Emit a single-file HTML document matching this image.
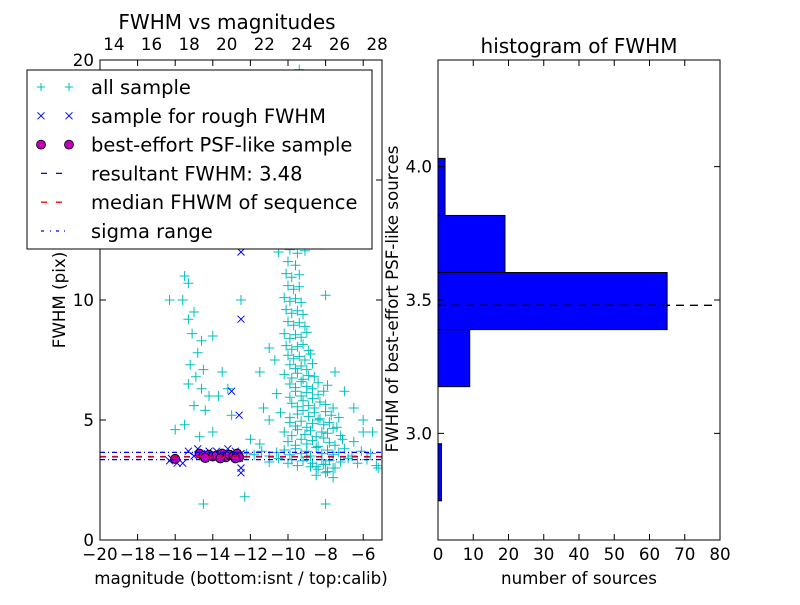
<!DOCTYPE html>
<html><head><meta charset="utf-8"><style>
body{margin:0;background:#fff}
svg{font-family:"DejaVu Sans","Liberation Sans",sans-serif}
</style></head><body>
<svg id="c" width="800" height="600" viewBox="0 0 800 600"></svg>
<script>
// ---- data: scatter (magnitude, FWHM) ----
const allMag=[-11,-10.5,-10,-9.8,-9.5,-9.2,-9,-8.7,-8.5,-8.2,-8,-7.8,-7.5,-7.2,-6.8,-6.3,-5.8,-5.3,
-12.2,-11.8,-11.4,-11,-10.6,-10.2,-9.9,-9.6,-9.3,-9,-8.8,-8.5,-8.2,-7.9,-7.6,-7.3,-7,-6.6,-6.1,-5.6,
-8.8,-8.4,-8.1,-7.9,-7.6,-8.5,-8,-7.6,
-10,-9.6,-9.3,-9,-8.7,-8.4,-8.1,-7.8,-7.5,-7.1,-6.5,
-10.2,-9.8,-9.5,-9.1,-8.8,-8.5,-8.2,-7.9,-7.6,-7.2,-6,
-9.9,-9.6,-9.3,-9,-8.7,-8.4,-8.1,-7.8,-7.4,
-10.4,-9.9,-9.5,-9.2,-8.9,-8.6,-8.3,-8,-7.7,-7.3,
-9.8,-9.5,-9.2,-8.9,-8.6,-8.3,-8,-7.6,
-10.6,-9.9,-9.6,-9.3,-9,-8.7,-8.4,-8.1,
-9.9,-9.6,-9.3,-9,-8.7,-8.4,-7.9,
-10.2,-9.8,-9.5,-9.2,-8.9,-8.6,
-9.9,-9.6,-9.3,-9,-8.7,
-10,-9.7,-9.4,-9.1,-8.8,
-10.1,-9.8,-9.5,-9.2,-8.9,
-10.2,-9.9,-9.6,-9.3,-9,
-10,-9.7,-9.4,-9.1,
-10.1,-9.8,-9.5,-9.2,
-10.2,-9.9,-9.6,-9.3,
-10,-9.7,-9.4,
-10.1,-9.8,-9.4,
-10,-9.6,
-9.9,-9.5,-9.1,
-15.5,-15.3,-15.6,-15,-15.3,-15.1,-14.6,-14.8,-15.2,-14.5,-14.9,-15.3,-14.6,-14.2,-15,-14.4,-15.5,-14.7,-14,-13.7,-13.5,-16,-16.3,-15.8,-14,-13.2,-13,
-12.5,-12.5,-11,-11.5,-10.7,-11.3,-11,-12,-11.5,-8,-7.5,-7,-6.5,-6,-5.5,-5.2,-12.3,-14.5,-8,-7.8,-8.6,-9.5,-8.7,-9.4,-10.5,-11.9,-11,-10.5,-9.2,-8.2];
const allFwhm=[3.25,3.4,3.2,3.35,3.1,3.3,3.45,3.2,3.05,3.35,3.15,3.3,3.0,3.25,3.4,3.2,3.35,3.1,
3.6,3.55,3.7,3.5,3.65,3.75,3.55,3.8,3.6,3.7,3.5,3.85,3.6,3.75,3.55,3.65,3.8,3.5,3.7,3.6,
3.05,2.95,3.15,2.85,3.0,2.7,2.8,2.6,
4.1,3.95,4.2,4.0,4.15,3.9,4.25,4.05,3.95,4.2,4.1,
4.5,4.35,4.6,4.4,4.55,4.3,4.5,4.45,4.65,4.35,4.5,
4.9,4.75,4.95,4.7,4.85,5.0,4.8,4.9,4.7,
5.3,5.1,5.25,5.4,5.15,5.3,5.05,5.35,5.2,5.1,
5.7,5.55,5.8,5.6,5.5,5.75,5.65,5.5,
6.1,5.95,6.2,6.0,6.15,5.9,6.05,6.2,
6.5,6.35,6.6,6.4,6.3,6.55,6.45,
6.9,6.75,6.95,6.7,6.85,6.8,
7.3,7.15,7.25,7.1,7.35,
7.7,7.55,7.65,7.5,7.75,
8.1,7.95,8.05,8.15,7.9,
8.6,8.4,8.55,8.45,8.65,
9.1,8.95,9.05,8.9,
9.6,9.45,9.55,9.4,
10.1,9.95,10.05,9.9,
10.6,10.45,10.55,
11.1,10.95,11.05,
11.6,11.45,
12.1,11.95,12.05,
11,10.7,10,9.5,9.2,8.6,8.3,7.8,7.3,7.1,6.8,6.5,6.3,6,5.6,5.4,4.8,4.3,4.5,6,7,4.6,10,12.8,8.5,6.3,5.2,
10,12.8,8,7,7.5,5.5,5,4.2,4,10.2,7,6.2,5.5,5,4.5,3,1.8,1.5,1.5,13,14.7,17,18,19.6,19.2,18.8,13.5,12,13,12.3];
const roughMag=[-16.3,-16.2,-15.9,-15.6,-15.3,-15,-14.8,-14.6,-14.4,-14.2,-14,-13.8,-13.6,-13.4,-13.2,-13,-12.8,-12.6,-12.5,-12.5,-12.5,-13,-12.6,-12.5,-12.5];
const roughFwhm=[3.3,3.4,3.2,3.2,3.7,3.5,3.8,3.6,3.4,3.7,3.5,3.7,3.4,3.6,3.8,3.5,3.7,3.4,3.6,12,9.2,6.2,5.2,3,2.8];
const psfMag=[-16,-14.7,-14.5,-14.2,-14,-13.8,-13.5,-13.3,-13.1,-12.9,-12.7,-12.6,-12.8,-13.6,-14.4];
const psfFwhm=[3.38,3.6,3.5,3.55,3.48,3.52,3.6,3.45,3.55,3.5,3.6,3.45,3.4,3.4,3.42];
const resultFwhm=3.48, medianFwhm=3.46, sigmaLo=3.35, sigmaHi=3.65;
// ---- data: histogram ----
const binEdges=[2.747,2.961,3.175,3.389,3.603,3.817,4.031];
const binCounts=[1,0,9,65,19,2];
const xTicksL=[-20,-18,-16,-14,-12,-10,-8,-6];
const xTicksTop=[14,16,18,20,22,24,26,28];
const yTicksL=[0,5,10,15,20];
const xTicksH=[0,10,20,30,40,50,60,70,80];
const yTicksH=[3.0,3.5,4.0];

const NS='http://www.w3.org/2000/svg', svg=document.getElementById('c');
function el(t,a,p){const e=document.createElementNS(NS,t);for(const k in a)e.setAttribute(k,a[k]);(p||svg).appendChild(e);return e;}
const L={x0:100,x1:382,y0:60,y1:540}, H={x0:438,x1:720,y0:60,y1:540};
const sxL=m=>L.x0+(m+20)*18.8, syL=f=>L.y1-f*24;
const sxT=v=>L.x0+(v-13.26)*18.8;
const sxH=c=>H.x0+c*(H.x1-H.x0)/80, syH=f=>H.y1-(f-2.6)*(H.y1-H.y0)/1.8;
const FS=16.7;

const cp=el('clipPath',{id:'clipL'});el('rect',{x:L.x0,y:L.y0,width:L.x1-L.x0,height:L.y1-L.y0},cp);
const gL=el('g',{'clip-path':'url(#clipL)'});


const gAll=el('g',{stroke:'#00bfbf','stroke-width':1},gL);


for(let i=0;i<allMag.length;i++){const x=sxL(allMag[i]),y=syL(allFwhm[i]);
 el('path',{d:`M${x-5} ${y}H${x+5}M${x} ${y-5}V${y+5}`},gAll);}
const gR=el('g',{stroke:'#0000ff','stroke-width':1},gL);


for(let i=0;i<roughMag.length;i++){const x=sxL(roughMag[i]),y=syL(roughFwhm[i]);
 el('path',{d:`M${x-3.5} ${y-3.5}L${x+3.5} ${y+3.5}M${x-3.5} ${y+3.5}L${x+3.5} ${y-3.5}`},gR);}
const gP=el('g',{fill:'#bf00bf',stroke:'#000','stroke-width':1},gL);


for(let i=0;i<psfMag.length;i++){el('circle',{cx:sxL(psfMag[i]),cy:syL(psfFwhm[i]),r:4.5},gP);}
function hline(g,y,col,dash,name){const l=el('line',{x1:L.x0,x2:L.x1,y1:y,y2:y,stroke:col,'stroke-width':1.3,'stroke-dasharray':dash},g);
 return l;}
hline(gL,syL(resultFwhm),'#0000ff','6 6','resultant-fwhm-line');
hline(gL,syL(medianFwhm),'#ff0000','6 6','median-fwhm-line');
hline(gL,syL(sigmaHi),'#0000ff','5 3 1 3','sigma-high-line');
hline(gL,syL(sigmaLo),'#0000ff','5 3 1 3','sigma-low-line');

const fL=el('rect',{x:L.x0,y:L.y0,width:L.x1-L.x0,height:L.y1-L.y0,fill:'none',stroke:'#000'});

function txt(x,y,s,anchor,size,name){const t=el('text',{x:x,y:y,'text-anchor':anchor,'font-size':size,fill:'#000'});t.textContent=s;
 return t;}
xTicksL.forEach(v=>{const x=sxL(v);el('path',{d:`M${x} ${L.y1}v-6M${x} ${L.y0}v6`,stroke:'#000'});
 txt(x,L.y1+20,(v<0?'\u2212':'')+Math.abs(v),'middle',FS,'x-tick-label');});
xTicksTop.forEach(v=>{const x=sxT(v);txt(x,50,String(v),'middle',FS,'top-x-tick-label');});
yTicksL.forEach(v=>{const y=syL(v);el('path',{d:`M${L.x0} ${y}h6M${L.x1} ${y}h-6`,stroke:'#000'});
 txt(L.x0-6,y+6,String(v),'end',FS,'y-tick-label');});
txt(241,584,'magnitude (bottom:isnt / top:calib)','middle',FS,'x-axis-title');
const yl=txt(0,0,'FWHM (pix)','middle',FS,'y-axis-title');yl.setAttribute('transform','translate(65,300) rotate(-90)');
txt(227,29,'FWHM vs magnitudes','middle',20,'scatter-title');

const lg=el('g',{});
el('rect',{x:27,y:70,width:345,height:179,fill:'#fff',stroke:'#000'},lg);
const items=['all sample','sample for rough FWHM','best-effort PSF-like sample','resultant FWHM: 3.48','median FHWM of sequence','sigma range'];
items.forEach((s,i)=>{const y=87+i*28.8;const g=el('g',{},lg);
 
 [41,69].forEach(x=>{
  if(i==0)el('path',{d:`M${x-4} ${y}H${x+4}M${x} ${y-4}V${y+4}`,stroke:'#00bfbf'},g);
  if(i==1)el('path',{d:`M${x-3.5} ${y-3.5}L${x+3.5} ${y+3.5}M${x-3.5} ${y+3.5}L${x+3.5} ${y-3.5}`,stroke:'#00f'},g);
  if(i==2)el('circle',{cx:x,cy:y,r:4.5,fill:'#bf00bf',stroke:'#000','stroke-width':0.8},g);});
 if(i==3)el('path',{d:`M41 ${y}h6M56 ${y}h6`,stroke:'#00f','stroke-width':1.3},g);
 if(i==4)el('path',{d:`M41 ${y}h6M56 ${y}h6`,stroke:'#f00','stroke-width':1.3},g);
 if(i==5)el('path',{d:`M41 ${y}h3M50 ${y}h1M56 ${y}h3M64 ${y}h1`,stroke:'#00f','stroke-width':1.3},g);
 const t=el('text',{x:91,y:y+7,'font-size':19.5,fill:'#000'},g);t.textContent=s;});

const gH=el('g',{});
binCounts.forEach((c,i)=>{if(c<=0)return;const y1=syH(binEdges[i+1]),y2=syH(binEdges[i]);
 const r=el('rect',{x:H.x0,y:y1,width:sxH(c)-H.x0,height:y2-y1,fill:'#0000ff',stroke:'#000','stroke-width':1},gH);
 });
const dl=el('line',{x1:H.x0,x2:714,y1:syH(resultFwhm),y2:syH(resultFwhm),stroke:'#000','stroke-width':1.3,'stroke-dasharray':'8 6'});

const fH=el('rect',{x:H.x0,y:H.y0,width:H.x1-H.x0,height:H.y1-H.y0,fill:'none',stroke:'#000'});

xTicksH.forEach(v=>{const x=sxH(v);el('path',{d:`M${x} ${H.y1}v-6M${x} ${H.y0}v6`,stroke:'#000'});
 txt(x,H.y1+20,String(v),'middle',FS,'hist-x-tick-label');});
yTicksH.forEach(v=>{const y=syH(v);el('path',{d:`M${H.x0} ${y}h6M${H.x1} ${y}h-6`,stroke:'#000'});
 txt(H.x0-6,y+6,v.toFixed(1),'end',FS,'hist-y-tick-label');});
txt(579,53,'histogram of FWHM','middle',20,'histogram-title');
txt(579,584,'number of sources','middle',FS,'hist-x-axis-title');
const hy=txt(0,0,'FWHM of best-effort PSF-like sources','middle',FS,'hist-y-axis-title');hy.setAttribute('transform','translate(398,299) rotate(-90)');
</script>
</body></html>
